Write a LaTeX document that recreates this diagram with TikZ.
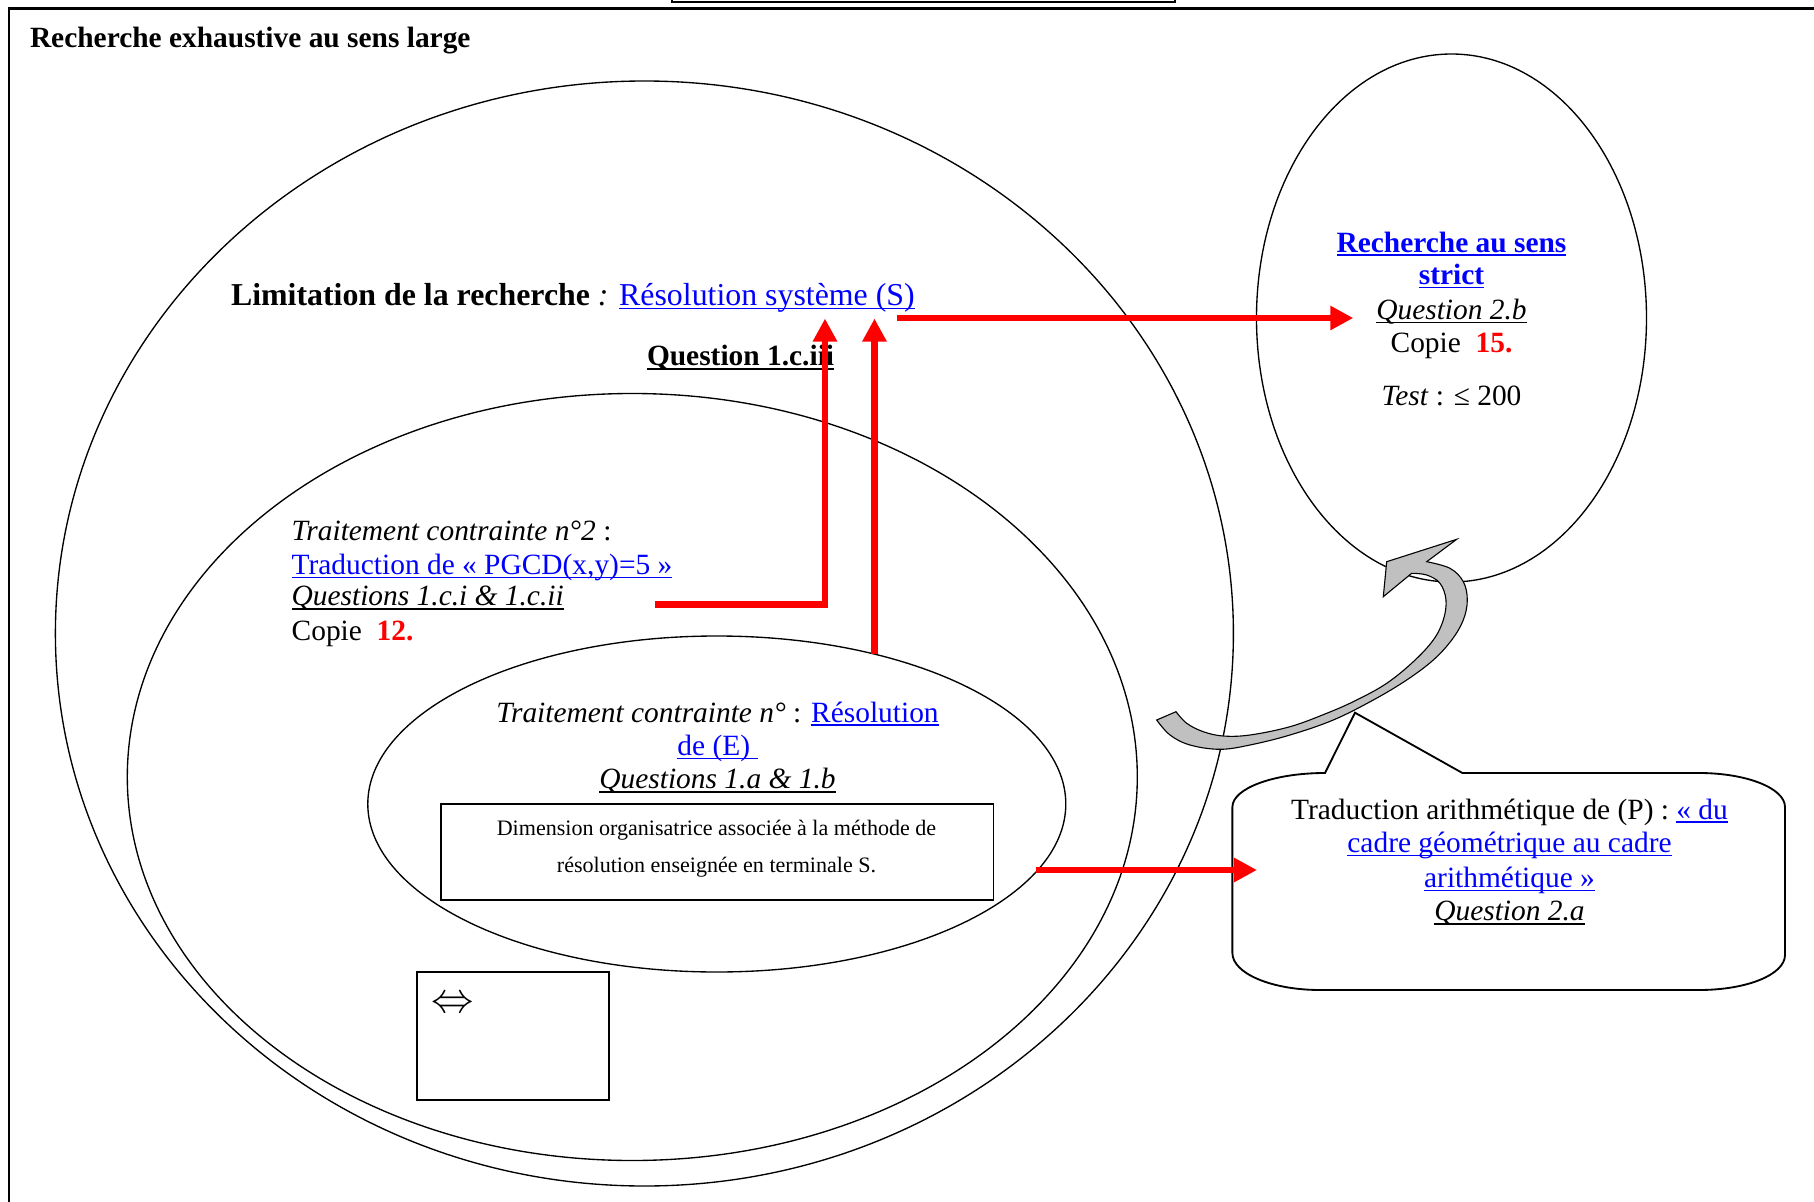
\documentclass[tikz,border=0pt]{standalone}
\usepackage{fontspec}
\setmainfont{Liberation Serif}
\newcommand{\uln}[1]{\setbox0=\hbox{#1}\rlap{\rule[-1.6pt]{\wd0}{0.6pt}}\box0}
\usetikzlibrary{arrows.meta}
\definecolor{lnk}{RGB}{0,0,255}
\definecolor{rd}{RGB}{255,0,0}
\definecolor{gr}{RGB}{192,192,192}
\begin{document}
\begin{tikzpicture}[x=0.408pt,y=-0.408pt,
  txt/.style={inner sep=0pt, outer sep=0pt, font=\fontsize{12}{14}\selectfont},
  small/.style={inner sep=0pt, outer sep=0pt, font=\fontsize{9}{11}\selectfont},
  redarrow/.style={draw=rd, line width=2.65pt, -{Triangle[length=9.4pt,width=9.4pt]}},
  shapeline/.style={draw=black, line width=0.55pt},
  boxline/.style={draw=black, line width=0.75pt}]
\useasboundingbox (0,0) rectangle (1814,1202);

% page frame
\draw[line width=0.6pt] (9,8.5) -- (9,1202);
\draw[line width=1.3pt] (8,8.5) -- (1814,8.5);
\draw[line width=0.9pt] (672,-4) -- (672,2) -- (1175,2) -- (1175,-4);

% ellipses
\draw[shapeline] (644.4,633.5) ellipse [x radius=589, y radius=552.5];
\draw[shapeline] (632.3,777) ellipse [x radius=505, y radius=383.5];
\draw[shapeline] (716.8,804) ellipse [x radius=349, y radius=168];
\draw[shapeline] (1451.5,318) ellipse [x radius=195, y radius=264];

% callout
\draw[boxline] (1325,773) -- (1355,712.7) -- (1462.4,773) -- (1699,773)
  .. controls (1746.5,773) and (1785,788.2) .. (1785,807) -- (1785,955)
  .. controls (1785,974.3) and (1747.6,990) .. (1699,990) -- (1320,990)
  .. controls (1271.6,990) and (1232.4,973.4) .. (1232.4,953) -- (1232.4,807)
  .. controls (1232.4,788.4) and (1273.6,773) .. (1325,773) -- cycle;

% boxes
\node[boxline, minimum width=225.4pt, minimum height=39.2pt, inner sep=0pt] (dimbox) at (717.2,852) {};
\node[boxline, minimum width=78.6pt, minimum height=52.1pt, inner sep=0pt] (eqbox) at (513,1036.1) {};
\node[inner sep=0pt, font=\fontsize{17}{20}\selectfont] (equiv) at (452.4,1004.3) {$\Leftrightarrow$};

% texts
\node[txt, anchor=base west, font=\bfseries\fontsize{12}{14}\selectfont] (title) at (30,47) {Recherche exhaustive au sens large};
\node[txt, anchor=base west, font=\fontsize{13}{15}\selectfont] (limit) at (231,305.5)
  {\textbf{Limitation de la recherche} \textit{:} \textcolor{lnk}{\uln{Résolution système (S)}}};
\node[txt, anchor=base west] (q1ciii) at (647,365.8) {\textbf{\uln{Question 1.c.iii}}};

\node[txt, anchor=base] (rs1) at (1451.5,252) {\textbf{\textcolor{lnk}{\uln{Recherche au sens}}}};
\node[txt, anchor=base] (rs2) at (1451.5,284.2) {\textbf{\textcolor{lnk}{\uln{strict}}}};
\node[txt, anchor=base] (rs3) at (1451.5,319.5) {\textit{\uln{Question 2.b}}};
\node[txt, anchor=base] (rs4) at (1451.5,352.5) {Copie\ \ \textcolor{rd}{\textbf{15.}}};
\node[txt, anchor=base] (rs5) at (1451.5,405.8) {\textit{Test} : ≤ 200};

\node[txt, anchor=base west] (tc1) at (291.7,540.8) {\textit{Traitement contrainte n°2} :};
\node[txt, anchor=base west] (tc2) at (291.7,574.2) {\textcolor{lnk}{\uln{Traduction de « PGCD(x,y)=5 »}}};
\node[txt, anchor=base west] (tc3) at (291.7,605.8) {\textit{\uln{Questions 1.c.i \& 1.c.ii}}};
\node[txt, anchor=base west] (tc4) at (291.7,640.8) {Copie\ \ \textcolor{rd}{\textbf{12.}}};

\node[txt, anchor=base] (te1) at (717.5,722) {\textit{Traitement contrainte n°} : \textcolor{lnk}{\uln{Résolution}}};
\node[txt, anchor=base] (te2) at (717.5,755.5) {\textcolor{lnk}{\uln{de (E)\ }}};
\node[txt, anchor=base] (te3) at (717.5,788.7) {\textit{\uln{Questions 1.a \& 1.b}}};
\node[small, anchor=base] (dm1) at (716.5,835) {Dimension organisatrice associée à la méthode de};
\node[small, anchor=base] (dm2) at (716.5,872.5) {résolution enseignée en terminale S.};

\node[txt, anchor=base] (ta1) at (1509.5,819) {Traduction arithmétique de (P) : \textcolor{lnk}{\uln{« du}}};
\node[txt, anchor=base] (ta2) at (1509.5,852.5) {\textcolor{lnk}{\uln{cadre géométrique au cadre}}};
\node[txt, anchor=base] (ta3) at (1509.5,887.5) {\textcolor{lnk}{\uln{arithmétique »}}};
\node[txt, anchor=base] (ta4) at (1509.5,920.8) {\textit{\uln{Question 2.a}}};

% red arrows
\coordinate (r1s) at (655,604.5);
\coordinate (r1e) at (825,318.5);
\coordinate (r2s) at (874.5,654);
\coordinate (r2e) at (874.5,318.5);
\coordinate (r3s) at (897.3,318);
\coordinate (r3e) at (1353.3,318);
\coordinate (r4s) at (1036,870);
\coordinate (r4e) at (1257,870);
\draw[redarrow] (r1s) -| (r1e);
\draw[redarrow] (r2s) -- (r2e);
\draw[redarrow] (r3s) -- (r3e);
\draw[redarrow] (r4s) -- (r4e);

% gray curved arrow
\filldraw[fill=gr, draw=black, line width=0.45pt]
  (1456.7,539.3) -- (1386.7,561.7) -- (1383.3,596.7) --
  plot[smooth, tension=0.6] coordinates {(1411.7,573.3) (1426.7,575) (1440,583.3) (1446,600) (1443.3,620) (1433.3,640) (1413.3,661.7) (1386.7,683.3) (1356.7,700) (1326.7,713.3) (1290,726.7) (1250,735) (1223.3,736) (1203.3,731.7) (1186.7,723.3) (1176,711.7)}
  -- plot[smooth, tension=0.6] coordinates {(1156.7,720) (1170,735) (1190,745) (1220,749.3) (1250,745) (1290,735) (1333.3,720) (1373.3,700) (1406.7,680) (1433.3,660) (1451.7,640) (1463.3,620) (1467.3,600) (1463.3,581.7) (1450,568.3) (1426.7,561.7)}
  -- cycle;
\end{tikzpicture}
\end{document}
